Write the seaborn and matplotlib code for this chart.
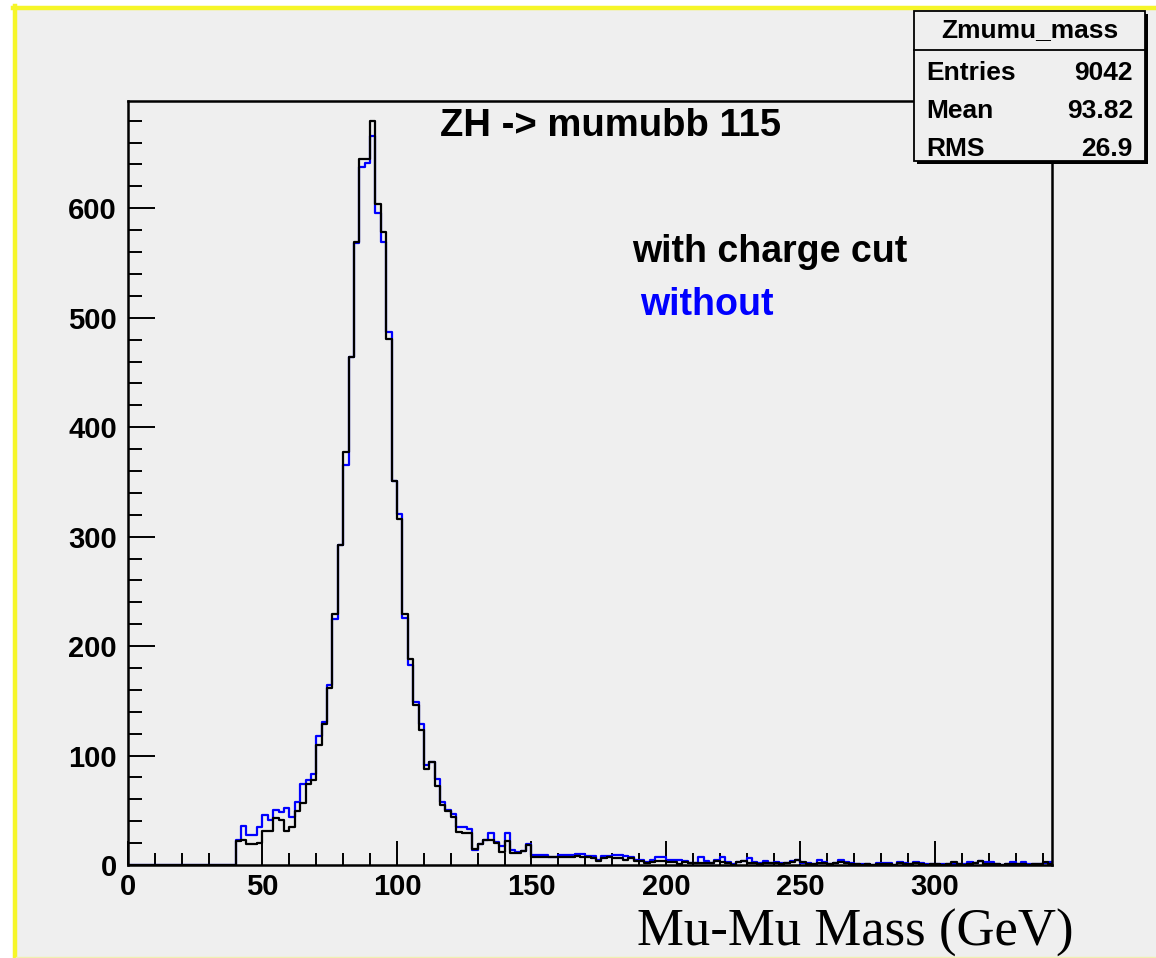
import numpy as np
import pandas as pd
import matplotlib
matplotlib.use("Agg")
import matplotlib.pyplot as plt
import seaborn as sns
from matplotlib.ticker import MultipleLocator
from matplotlib.patches import Rectangle
from matplotlib.lines import Line2D

# ---------------- data ----------------
bin_width = 2
hist_range = (0, 344)
bin_low = np.arange(40, 344, bin_width)          # left edges of the filled bins

with_cut = (
    [22, 23, 19, 19, 20, 31, 31, 43, 41, 31, 35, 49, 57, 74, 78, 110, 129, 162, 229, 292,
     377, 464, 569, 645, 645, 680, 604, 578, 481, 351, 316, 229, 188, 146, 123, 88, 94, 72,
     55, 49, 44, 30, 29, 29, 15, 19, 23, 23, 20, 12, 22, 11, 11, 13, 18]
    + [7, 7, 7, 7, 7, 7, 7, 7, 8, 7, 7, 6, 4, 6, 7, 6, 6, 5, 6, 4, 4, 2, 3, 4, 4, 3, 3, 1,
       3, 2, 2, 2, 2, 2, 4, 3, 2, 0, 3, 4, 2, 2, 1, 2, 2, 2, 1, 2, 3]
    + [5, 3, 1, 1, 2, 2, 1, 2, 3, 2, 1, 1, 0, 1, 0, 1, 1, 1, 0, 2, 1, 1, 2, 1, 0, 1, 1, 0,
       1, 3, 1, 0, 1, 2, 4, 1, 1, 1, 0, 1, 1, 1, 1, 0, 1, 1, 3, 1]
)
without_cut = (
    [23, 36, 27, 27, 35, 46, 41, 50, 48, 52, 44, 58, 74, 78, 83, 118, 131, 164, 225, 292,
     365, 464, 568, 638, 641, 666, 596, 569, 487, 351, 321, 226, 183, 149, 129, 91, 94, 79,
     58, 50, 47, 35, 35, 33, 14, 19, 23, 29, 21, 17, 29, 14, 12, 13, 19]
    + [9, 9, 9, 7, 7, 9, 9, 9, 10, 10, 8, 8, 5, 8, 8, 9, 9, 8, 7, 5, 5, 3, 5, 7, 7, 5, 5, 5,
       4, 2, 2, 7, 4, 2, 5, 7, 3, 1, 3, 4, 6, 3, 2, 4, 2, 3, 2, 2, 4]
    + [5, 2, 2, 1, 5, 3, 1, 2, 5, 3, 2, 1, 1, 1, 0, 2, 2, 2, 0, 3, 2, 1, 3, 2, 1, 1, 1, 1,
       1, 1, 1, 1, 3, 2, 4, 3, 3, 1, 0, 1, 3, 1, 3, 1, 1, 1, 2, 3]
)

x_ticks = [0, 50, 100, 150, 200, 250, 300]
y_ticks = [0, 100, 200, 300, 400, 500, 600]

title = "ZH -> mumubb 115"
legend_with = "with charge cut"
legend_without = "without"
xlabel = "Mu-Mu Mass (GeV)"
stats_name = "Zmumu_mass"
stats_rows = [("Entries", "9042"), ("Mean", "93.82"), ("RMS", "26.9")]

# ---------------- figure ----------------
W, H = 1156, 958
BG = "#efefef"
SANS = ["Liberation Sans", "DejaVu Sans"]
SERIF = ["Liberation Serif", "DejaVu Serif"]

fig = plt.figure(figsize=(W / 100, H / 100), dpi=100, facecolor="white")


def fx(px):
    return px / W


def fy(py):
    return 1 - py / H


# canvas background and yellow frame
fig.add_artist(Rectangle((fx(14), 0), 1 - fx(14), fy(8), transform=fig.transFigure,
                         facecolor=BG, edgecolor="none", zorder=-10))
fig.add_artist(Line2D([fx(14.5), fx(14.5)], [0, fy(6)], transform=fig.transFigure,
                      color="#f6f628", lw=3.2, zorder=-5))
fig.add_artist(Line2D([fx(13), 1], [fy(8), fy(8)], transform=fig.transFigure,
                      color="#f6f628", lw=3.2, zorder=-5))
fig.add_artist(Line2D([fx(16), 1], [fy(957), fy(957)], transform=fig.transFigure,
                      color="#f0f0b0", lw=1.0, zorder=-5))

ax = fig.add_axes([fx(128), fy(865), fx(1052) - fx(128), fy(101) - fy(865)])
ax.set_facecolor(BG)

centers = bin_low + bin_width / 2
df_without = pd.DataFrame({"mass": centers, "count": without_cut})
df_with = pd.DataFrame({"mass": centers, "count": with_cut})

sns.histplot(data=df_without, x="mass", weights="count", binwidth=bin_width,
             binrange=hist_range, element="step", fill=False, color="#0000ff",
             linewidth=1.6, ax=ax)
sns.histplot(data=df_with, x="mass", weights="count", binwidth=bin_width,
             binrange=hist_range, element="step", fill=False, color="black",
             linewidth=1.6, ax=ax)

ax.set_xlim(0, 343.5)
ax.set_ylim(0, 698)
ax.set_xlabel("")
ax.set_ylabel("")

for s in ax.spines.values():
    s.set_linewidth(1.8)
    s.set_color("black")

ax.set_xticks(x_ticks)
ax.set_yticks(y_ticks)
ax.xaxis.set_minor_locator(MultipleLocator(10))
ax.yaxis.set_minor_locator(MultipleLocator(20))
ax.tick_params(axis="x", which="major", direction="in", length=17, width=1.4, pad=6,
               top=False, bottom=True)
ax.tick_params(axis="x", which="minor", direction="in", length=9, width=1.4,
               top=False, bottom=True)
ax.tick_params(axis="y", which="major", direction="in", length=19.5, width=1.4, pad=8,
               right=False, left=True)
ax.tick_params(axis="y", which="minor", direction="in", length=10, width=1.4,
               right=False, left=True)
for lab in ax.get_xticklabels() + ax.get_yticklabels():
    lab.set_family(SANS)
    lab.set_fontweight("bold")
    lab.set_fontsize(21)

# texts on the canvas
fig.text(fx(611), fy(136), title, family=SANS, fontweight="bold", fontsize=27.5,
         ha="center", va="baseline")
fig.text(fx(632), fy(262), legend_with, family=SANS, fontweight="bold", fontsize=27,
         ha="left", va="baseline", color="black")
fig.text(fx(640), fy(315), legend_without, family=SANS, fontweight="bold", fontsize=27,
         ha="left", va="baseline", color="#0000ff")
fig.text(fx(637), fy(946), xlabel, family=SERIF, fontsize=38, ha="left", va="baseline")

# stats box (ROOT style, with shadow)
bx0, by0, bx1, by1 = 914, 11, 1145, 161
fig.add_artist(Rectangle((fx(bx0 + 3), fy(by1 + 3)), fx(bx1) - fx(bx0), fy(by0) - fy(by1),
                         transform=fig.transFigure, facecolor="black", edgecolor="none",
                         zorder=5))
fig.add_artist(Rectangle((fx(bx0), fy(by1)), fx(bx1) - fx(bx0), fy(by0) - fy(by1),
                         transform=fig.transFigure, facecolor=BG, edgecolor="black",
                         lw=1.3, zorder=6))
fig.add_artist(Line2D([fx(bx0), fx(bx1)], [fy(50), fy(50)], transform=fig.transFigure,
                      color="black", lw=1.3, zorder=7))
fig.text(fx((bx0 + bx1) / 2), fy(37), stats_name, family=SANS, fontweight="bold",
         fontsize=19, ha="center", va="baseline", zorder=8)
for (name, val), base in zip(stats_rows, [80, 118, 156]):
    fig.text(fx(926), fy(base), name, family=SANS, fontweight="bold", fontsize=19,
             ha="left", va="baseline", zorder=8)
    fig.text(fx(1133), fy(base), val, family=SANS, fontweight="bold", fontsize=19,
             ha="right", va="baseline", zorder=8)

fig.savefig("out.png", dpi=100, facecolor="white")
